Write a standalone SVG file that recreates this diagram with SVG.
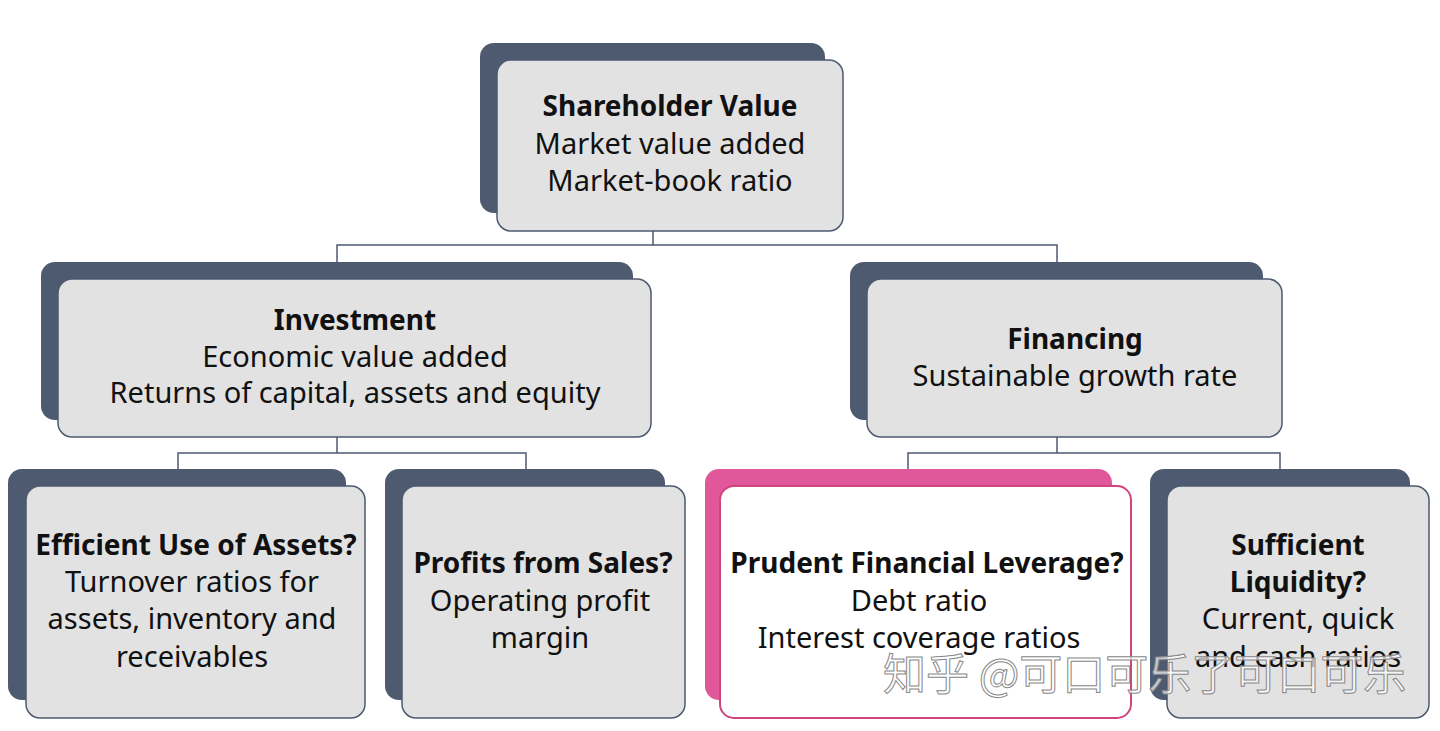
<svg xmlns="http://www.w3.org/2000/svg" width="1440" height="731" viewBox="0 0 1440 731">
<style>
.back{fill:#4d5a70}
.backp{fill:#e0589a}
.front{fill:#e2e2e3;stroke:#4d5a70;stroke-width:1.5}
.frontw{fill:#ffffff;stroke:#d0457f;stroke-width:2}
text{font-family:"Noto Sans","Open Sans",sans-serif;font-size:29px;fill:#111;text-anchor:middle}
.b{font-weight:bold;font-size:28px}
.con{fill:none;stroke:#4d5a70;stroke-width:1.5}
.wm{font-family:"Noto Sans CJK SC",sans-serif;font-size:43px;fill:#ffffff;fill-opacity:0.7;stroke:#888;stroke-width:1;text-anchor:start}
</style>
<rect width="1440" height="731" fill="#fff"/>
<g id="connectors">
<path class="con" d="M653 231V245M337 262V245H1057V262"/>
<path class="con" d="M337 437V453M178 470V453H526V470"/>
<path class="con" d="M1057 437V453M908 470V453H1280V470"/>
</g>
<g id="shareholder">
<rect class="back" x="480" y="43" width="345" height="170" rx="14"/>
<rect class="front" x="497" y="60" width="346" height="171" rx="14"/>
<text x="670" y="116" class="b">Shareholder Value</text>
<text x="670" y="154">Market value added</text>
<text x="670" y="191">Market-book ratio</text>
</g>
<g id="investment">
<rect class="back" x="41" y="262" width="592" height="158" rx="14"/>
<rect class="front" x="58" y="279" width="593" height="158" rx="14"/>
<text x="355" y="330" class="b">Investment</text>
<text x="355" y="367">Economic value added</text>
<text x="355" y="403">Returns of capital, assets and equity</text>
</g>
<g id="financing">
<rect class="back" x="850" y="262" width="413" height="158" rx="14"/>
<rect class="front" x="867" y="279" width="415" height="158" rx="14"/>
<text x="1075" y="349" class="b">Financing</text>
<text x="1075" y="386">Sustainable growth rate</text>
</g>
<g id="efficient">
<rect class="back" x="8" y="469" width="338" height="231" rx="14"/>
<rect class="front" x="26" y="486" width="339" height="232" rx="14"/>
<text x="196" y="555" class="b">Efficient Use of Assets?</text>
<text x="192" y="592">Turnover ratios for</text>
<text x="192" y="629">assets, inventory and</text>
<text x="192" y="667">receivables</text>
</g>
<g id="profits">
<rect class="back" x="385" y="469" width="280" height="231" rx="14"/>
<rect class="front" x="402" y="486" width="283" height="232" rx="14"/>
<text x="543" y="573" class="b">Profits from Sales?</text>
<text x="540" y="611">Operating profit</text>
<text x="540" y="648">margin</text>
</g>
<g id="prudent">
<rect class="backp" x="705" y="469" width="407" height="231" rx="14"/>
<rect class="frontw" x="720" y="486" width="411" height="232" rx="14"/>
<text x="927" y="573" class="b">Prudent Financial Leverage?</text>
<text x="919" y="611">Debt ratio</text>
<text x="919" y="648">Interest coverage ratios</text>
</g>
<g id="sufficient">
<rect class="back" x="1150" y="469" width="260" height="231" rx="14"/>
<rect class="front" x="1167" y="486" width="262" height="232" rx="14"/>
<text x="1298" y="555" class="b">Sufficient</text>
<text x="1298" y="592" class="b">Liquidity?</text>
<text x="1298" y="629">Current, quick</text>
<text x="1298" y="667">and cash ratios</text>
</g>
<text class="wm" x="883" y="690">知乎 @可口可乐了可口可乐</text>
</svg>
